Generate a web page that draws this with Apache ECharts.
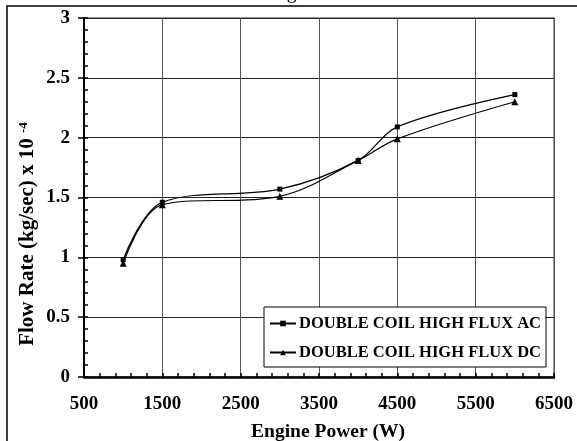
<!DOCTYPE html>
<html>
<head>
<meta charset="utf-8">
<script src="https://cdn.jsdelivr.net/npm/echarts@6/dist/echarts.min.js"></script>
<style>
  html, body { margin: 0; padding: 0; background: #fff; }
  #chart { width: 577px; height: 441px; }
</style>
</head>
<body>
<div id="chart"></div>
<script>
// Engine power (W) at each measurement
const powers = [1000, 1500, 3000, 4000, 4500, 6000];
// Flow rate (kg/sec x 10^-4) for each coil configuration
const acFlow = [0.98, 1.46, 1.57, 1.81, 2.09, 2.36];
const dcFlow = [0.95, 1.44, 1.51, 1.81, 1.99, 2.30];
const seriesNames = ['DOUBLE COIL HIGH FLUX AC', 'DOUBLE COIL HIGH FLUX DC'];
const seriesSymbols = ['rect', 'triangle'];
const seriesSymbolSizes = [5, 7];
// Axis ranges and steps
const xRange = [500, 6500, 1000];
const yRange = [0, 3, 0.5];

const FONT = '"Liberation Serif", "Times New Roman", serif';

function pairs(xs, ys) {
  return xs.map((x, i) => [x, ys[i]]);
}

const chart = echarts.init(document.getElementById('chart'), null, { renderer: 'canvas' });

const flows = [acFlow, dcFlow];

chart.setOption({
  animation: false,
  backgroundColor: '#ffffff',
  grid: {
    left: 84, right: 23, top: 18, bottom: 64,
    show: true, borderColor: '#777', borderWidth: 1.5,
    outerBoundsMode: 'none'
  },
  xAxis: {
    type: 'value',
    min: xRange[0], max: xRange[1], interval: xRange[2],
    axisLine: { onZero: false, lineStyle: { color: '#000', width: 2.5 } },
    axisTick: { show: true, inside: true, length: 4, lineStyle: { color: '#000', width: 1.5 } },
    minorTick: { show: true, splitNumber: 5, length: 4, lineStyle: { color: '#000', width: 1.5 } },
    splitLine: { show: true, lineStyle: { color: '#555', width: 1 } },
    axisLabel: {
      margin: 18, color: '#000', fontFamily: FONT, fontWeight: 'bold', fontSize: 19,
      showMinLabel: true, showMaxLabel: true,
      formatter: v => String(v)
    }
  },
  yAxis: [{
    type: 'value',
    min: yRange[0], max: yRange[1], interval: yRange[2],
    axisLine: { show: true, onZero: false, lineStyle: { color: '#000', width: 2 } },
    axisTick: { show: true, inside: true, length: 4, lineStyle: { color: '#000', width: 1.5 } },
    minorTick: { show: true, splitNumber: 5, length: 4, lineStyle: { color: '#000', width: 1.5 } },
    splitLine: { show: true, lineStyle: { color: '#222', width: 1 } },
    axisLabel: { margin: 14, color: '#000', fontFamily: FONT, fontWeight: 'bold', fontSize: 19 }
  }, {
    // outward major tick marks on the left axis
    type: 'value', position: 'left',
    min: yRange[0], max: yRange[1], interval: yRange[2],
    axisLine: { show: false, onZero: false },
    axisTick: { show: true, inside: false, length: 6, lineStyle: { color: '#000', width: 1.5 } },
    splitLine: { show: false },
    axisLabel: { show: false }
  }],
  legend: {
    orient: 'vertical',
    left: 264, top: 307,
    padding: [8, 5, 6, 5],
    itemGap: 12,
    itemWidth: 26, itemHeight: 7,
    backgroundColor: '#fff',
    borderColor: '#000', borderWidth: 1,
    borderRadius: 0,
    data: seriesNames,
    textStyle: { color: '#000', fontFamily: FONT, fontWeight: 'bold', fontSize: 16.5, padding: [0, 0, 0, -2] }
  },
  series: seriesNames.map((name, i) => ({
    name: name,
    type: 'line',
    data: pairs(powers, flows[i]),
    smooth: 0.35,
    symbol: seriesSymbols[i],
    symbolSize: seriesSymbolSizes[i],
    showAllSymbol: true,
    lineStyle: { color: '#000', width: 1.2 },
    itemStyle: { color: '#000' },
    z: 3
  })),
  graphic: [
    {
      type: 'rect', silent: true, z: 100,
      shape: { x: 7, y: 6, width: 620, height: 500 },
      style: { fill: 'none', stroke: '#000', lineWidth: 1.5 }
    },
    {
      type: 'text', silent: true, z: 100,
      x: 154, y: 3,
      style: {
        text: 'Flow Rate vs Engine Power',
        fill: '#000', font: '20px ' + FONT,
        align: 'left', verticalAlign: 'bottom'
      }
    },
    {
      type: 'text', silent: true, z: 100,
      x: 328, y: 432,
      style: {
        text: 'Engine Power (W)',
        fill: '#000', font: 'bold 19.5px ' + FONT,
        align: 'center', verticalAlign: 'middle'
      }
    },
    {
      type: 'text', silent: true, z: 100,
      x: 28, y: 234,
      rotation: Math.PI / 2,
      style: {
        text: '{a|Flow Rate (kg/sec) x 10 }{s|-4}',
        fill: '#000',
        align: 'center', verticalAlign: 'middle',
        rich: {
          a: { fontFamily: FONT, fontWeight: 'bold', fontSize: 21, fill: '#000' },
          s: { fontFamily: FONT, fontWeight: 'bold', fontSize: 13, fill: '#000', verticalAlign: 'top' }
        }
      }
    }
  ]
});
</script>
</body>
</html>
